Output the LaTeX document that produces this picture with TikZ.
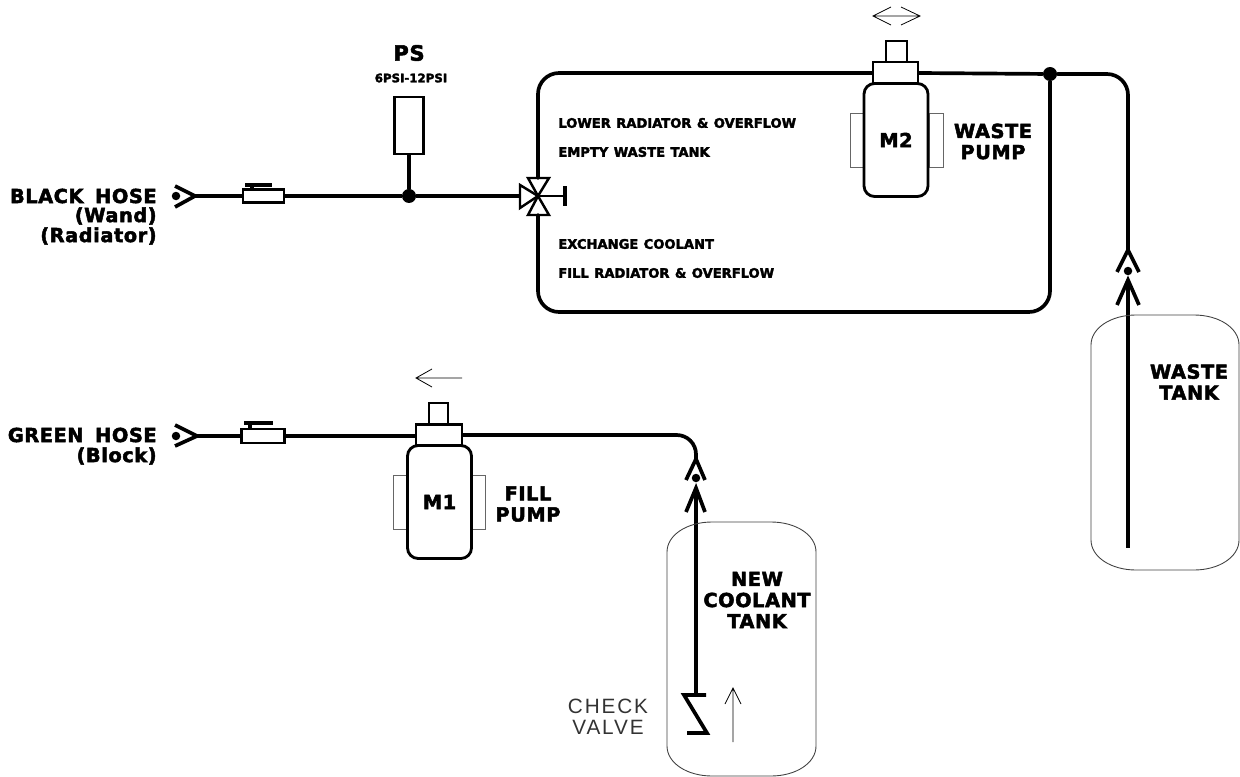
\documentclass[tikz,border=0pt]{standalone}
\usepackage{fontspec}
\setmainfont{DejaVu Sans}
\newfontfamily\lblfont[LetterSpace=3,WordSpace=1.6,FakeBold=2.5]{DejaVu Sans Bold}
\newfontfamily\smlfont[FakeBold=2.5,WordSpace=1.2]{DejaVu Sans Bold}
\newfontfamily\thinfont[LetterSpace=9]{Liberation Sans}
\usetikzlibrary{positioning, arrows.meta, calc, backgrounds}
\newcommand{\tankline}[4]{\draw[tankedge] (#1+45,#2) -- (#3-45,#2) .. controls (#3-20,#2) and (#3,#2+13) .. (#3,#2+30) -- (#3,#4-30) .. controls (#3,#4-13) and (#3-20,#4) .. (#3-45,#4) -- (#1+45,#4) .. controls (#1+20,#4) and (#1,#4-13) .. (#1,#4-30) -- (#1,#2+30) .. controls (#1,#2+13) and (#1+20,#2) .. (#1+45,#2) -- cycle;}
\begin{document}
\begin{tikzpicture}[x=0.02cm,y=-0.02cm,pipe/.style={line width=2.1pt, color=black, line cap=round},pipethin/.style={line width=2.1pt, color=black},tankedge/.style={line width=0.5pt, color=black!75},thinarr/.style={line width=0.45pt, color=black},sidebox/.style={draw=black!60, line width=0.5pt, fill=white, inner sep=0pt},headbox/.style={draw=black, line width=1.4pt, fill=white, inner sep=0pt},bodybox/.style={draw=black, line width=1.6pt, fill=white, rounded corners=6pt, minimum width=1.28cm, minimum height=2.26cm, inner sep=0pt, font=\lblfont\fontsize{11}{12}\selectfont},jct/.style={circle, fill=black, inner sep=0pt, minimum size=0.28cm},pin/.style={circle, fill=black, inner sep=0pt, minimum size=0.17cm},bigl/.style={font=\lblfont\fontsize{11}{12}\selectfont, inner sep=0pt},midl/.style={font=\lblfont\fontsize{12}{12}\selectfont, inner sep=0pt},smalll/.style={font=\smlfont\fontsize{7.45}{8}\selectfont, inner sep=0pt, anchor=west},tinyl/.style={font=\smlfont\fontsize{6.7}{6}\selectfont, inner sep=0pt},thinl/.style={font=\thinfont\fontsize{11.8}{12}\selectfont, color=black!80, inner sep=0pt}]
\useasboundingbox (0,0) rectangle (1240,777);
\node[bigl, anchor=east] (blackhose) at (157,196) {BLACK HOSE};
\node[bigl, anchor=east] (wand) at (157,216) {(Wand)};
\node[bigl, anchor=east] (radiator) at (157,236) {(Radiator)};
\node[bigl, anchor=east] (greenhose) at (157,435) {GREEN HOSE};
\node[bigl, anchor=east] (block) at (157,456) {(Block)};
\node[pin] (dotb) at (176,196) {};
\coordinate (tipb) at (195,196);
\draw[pipethin] (175,186) -- (tipb) -- (175,207);
\node[pin] (dotg) at (176,436) {};
\coordinate (tipg) at (197,436);
\draw[pipethin] (175,425) -- (tipg) -- (175,446);
\node[headbox, minimum width=0.82cm, minimum height=0.26cm] (fitb) at (263.5,196) {};
\coordinate (fitbtop) at (252,185);
\draw[pipethin] (245,185) -- (272,185);
\draw[pipethin] (fitbtop) -- (252,190);
\node[headbox, minimum width=0.86cm, minimum height=0.27cm] (fitg) at (263,436) {};
\coordinate (fitgtop) at (250,423);
\draw[pipethin] (244,423) -- (273,423);
\draw[pipethin] (fitgtop) -- (250,429);
\node[jct] (jctps) at (409,196) {};
\node[headbox, minimum width=0.58cm, minimum height=1.14cm] (ps) at (409,125.5) {};
\node[midl] (pslbl) at (409,53) {PS};
\node[tinyl] (psrange) at (411,78) {6PSI-12PSI};
\draw[pipe] (ps) -- (jctps);
\coordinate (valve) at (538,196);
\coordinate (valvetop) at (538,178);
\coordinate (valvebot) at (538,215);
\coordinate (valveend) at (565,196);
\draw[headbox, line join=miter] (valve) -- (520,185) -- (520,208) -- cycle;
\draw[headbox, line join=miter] (valve) -- (528,178) -- (549,178) -- cycle;
\draw[headbox, line join=miter] (valve) -- (528,215) -- (549,215) -- cycle;
\draw[pipethin, line width=1.6pt] (valve) -- (valveend);
\draw[pipe, line cap=butt] (565,186) -- (565,206);
\draw[pipe, line cap=butt] (tipb) -- (fitb);
\draw[pipe, line cap=butt] (fitb) -- (jctps);
\draw[pipe, line cap=butt] (jctps) -- (520,196);
\node[smalll] (lower) at (558,123) {LOWER RADIATOR \& OVERFLOW};
\node[smalll] (empty) at (558,152) {EMPTY WASTE TANK};
\node[smalll] (exchange) at (558,244) {EXCHANGE COOLANT};
\node[smalll] (fillrad) at (558,273) {FILL RADIATOR \& OVERFLOW};
\node[sidebox, minimum width=0.28cm, minimum height=1.08cm] (m2l) at (857,140) {};
\node[sidebox, minimum width=0.28cm, minimum height=1.08cm] (m2r) at (936,140) {};
\node[headbox, minimum width=0.42cm, minimum height=0.42cm] (m2top) at (896.5,51.5) {};
\node[headbox, minimum width=0.9cm, minimum height=0.44cm] (m2head) at (895.5,73) {};
\node[bodybox] (m2) at (896,140) {M2};
\node[bigl, align=center] (m2lbl) at (993,141.5) {WASTE\\[0pt]PUMP};
\draw[thinarr] (891,7) -- (873,16) -- (891,25) (873,16) -- (920,16) (901,7) -- (920,16) -- (901,25);
\node[jct] (jctw) at (1050,74) {};
\coordinate (wcornerb) at (1128,250);
\draw[pipe, rounded corners=12pt] (valvetop) -- (538,73) -- (m2head.west |- 0,73);
\draw[pipe, rounded corners=12pt] (m2head.east |- 0,73) -- (jctw) -- (1128,74) -- (wcornerb);
\draw[pipe, rounded corners=12pt] (jctw) -- (1050,312) -- (538,312) -- (valvebot);
\draw[pipethin] (1117,272) -- (wcornerb) -- (1139,272);
\node[pin] (dotw) at (1128,271) {};
\coordinate (tipw) at (1128,280);
\draw[pipethin] (1117,305) -- (tipw) -- (1139,305);
\coordinate (wend) at (1128,548);
\draw[pipe, line cap=butt] (tipw) -- (wend);
\tankline{1091}{315}{1239}{570}
\node[bigl, align=center] (wtank) at (1189,382) {WASTE\\[0pt]TANK};
\node[sidebox, minimum width=0.28cm, minimum height=1.08cm] (m1l) at (400,502) {};
\node[sidebox, minimum width=0.28cm, minimum height=1.08cm] (m1r) at (478,502) {};
\node[headbox, minimum width=0.38cm, minimum height=0.44cm] (m1top) at (438.5,414) {};
\node[headbox, minimum width=0.92cm, minimum height=0.42cm] (m1head) at (439,435) {};
\node[bodybox] (m1) at (439.5,502) {M1};
\node[bigl, align=center] (m1lbl) at (528,504) {FILL\\[0pt]PUMP};
\draw[thinarr] (432,369) -- (416,378) -- (432,387) (416,378) -- (462,378);
\coordinate (gcorner) at (696,459);
\draw[pipe, line cap=butt] (tipg) -- (fitg);
\draw[pipe, line cap=butt] (fitg) -- (m1head.west |- 0,436);
\draw[pipe, rounded corners=11pt, line cap=butt] (m1head.east |- 0,435) -- (696,435) -- (gcorner);
\draw[pipethin] (686,480) -- (gcorner) -- (705,480);
\node[pin] (dotn) at (696,478) {};
\coordinate (tipn) at (696,488);
\draw[pipethin] (686,512) -- (tipn) -- (705,512);
\coordinate (checktop) at (696,695);
\draw[pipe, line cap=butt] (tipn) -- (checktop);
\draw[pipethin, line join=miter] (706,695) -- (684,695) -- (707,733) -- (687,733);
\tankline{667}{522}{816}{776}
\node[bigl, align=center] (ntank) at (757,600) {NEW\\[0pt]COOLANT\\[0pt]TANK};
\draw[thinarr] (725,704) -- (733,688) -- (741,704) (733,688) -- (733,742);
\node[thinl] (check) at (608,706) {CHECK};
\node[thinl] (chkvalve) at (608,727) {VALVE};
\end{tikzpicture}
\end{document}
